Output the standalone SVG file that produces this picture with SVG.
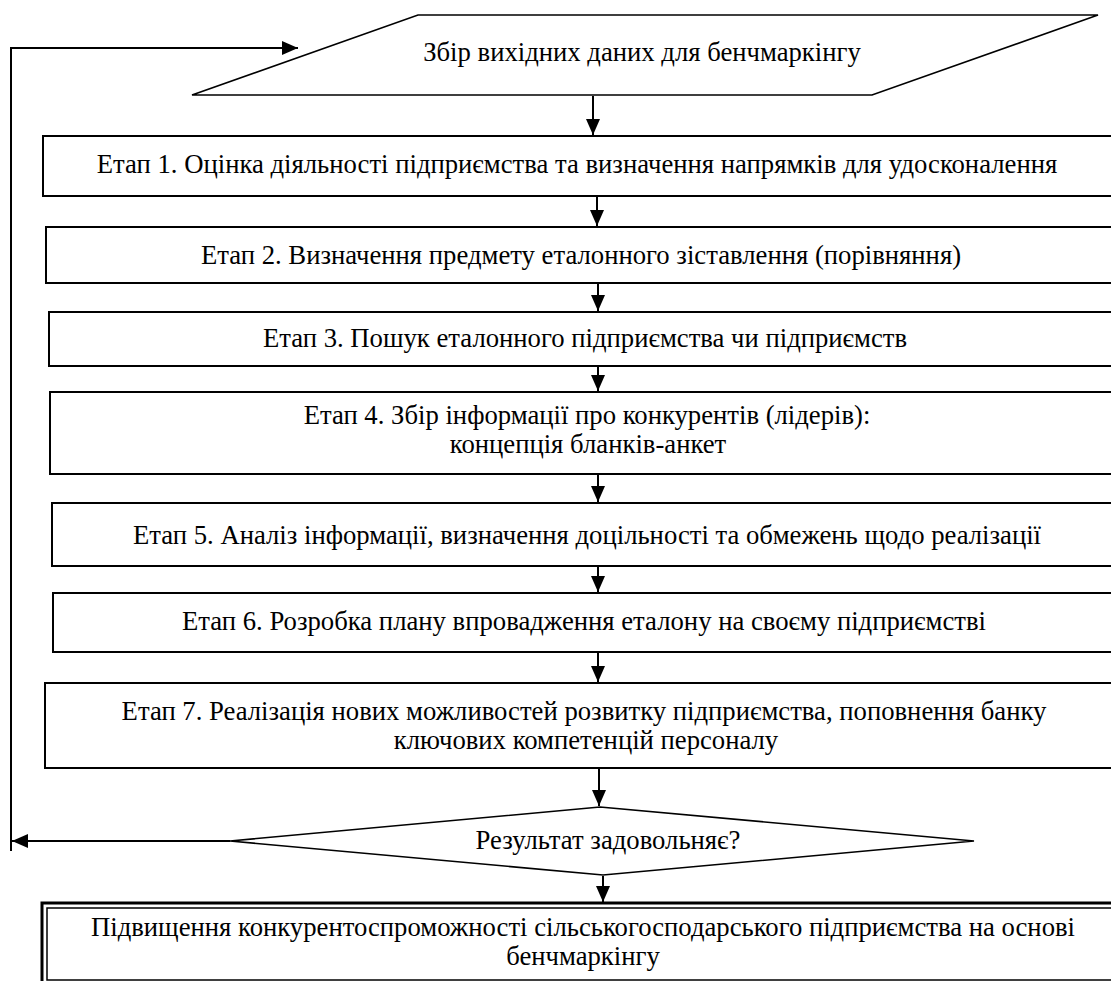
<svg xmlns="http://www.w3.org/2000/svg" width="1111" height="981" viewBox="0 0 1111 981">
<style>
.box{fill:#fff;stroke:#000;stroke-width:2}
.shape{fill:#fff;stroke:#000;stroke-width:1.6}
.t{font-family:"Liberation Serif","Times New Roman",serif;font-size:26.7px;fill:#000;text-anchor:middle}
.c{fill:none;stroke:#000;stroke-width:2}
</style>
<defs>
<marker id="ah" viewBox="0 0 16 14" refX="16" refY="7" markerWidth="16" markerHeight="14" markerUnits="userSpaceOnUse" orient="auto">
<path d="M0,0 L16,7 L0,14 Z" fill="#000"/>
</marker>
</defs>
<rect width="1111" height="981" fill="#fff"/>
<g id="n0">
<polygon class="shape" points="418,15 1098,15 872,95 192,95"/>
<text class="t" x="642" y="61">Збір вихідних даних для бенчмаркінгу</text>
</g>
<g id="n1">
<rect class="box" x="43" y="136" width="1100" height="60"/>
<text class="t" x="577" y="173">Етап 1. Оцінка діяльності підприємства та визначення напрямків для удосконалення</text>
</g>
<g id="n2">
<rect class="box" x="46" y="227" width="1100" height="56"/>
<text class="t" x="581" y="264">Етап 2. Визначення предмету еталонного зіставлення (порівняння)</text>
</g>
<g id="n3">
<rect class="box" x="49" y="312" width="1100" height="54"/>
<text class="t" x="585" y="347">Етап 3. Пошук еталонного підприємства чи підприємств</text>
</g>
<g id="n4">
<rect class="box" x="50" y="392" width="1100" height="82"/>
<text class="t" x="587" y="424">Етап 4. Збір інформації про конкурентів (лідерів):</text>
<text class="t" x="588" y="453">концепція бланків-анкет</text>
</g>
<g id="n5">
<rect class="box" x="52" y="503" width="1100" height="63"/>
<text class="t" x="587" y="544">Етап 5. Аналіз інформації, визначення доцільності та обмежень щодо реалізації</text>
</g>
<g id="n6">
<rect class="box" x="53" y="593" width="1100" height="59"/>
<text class="t" x="584" y="630">Етап 6. Розробка плану впровадження еталону на своєму підприємстві</text>
</g>
<g id="n7">
<rect class="box" x="45" y="683" width="1100" height="85"/>
<text class="t" x="584" y="720">Етап 7. Реалізація нових можливостей розвитку підприємства, поповнення банку</text>
<text class="t" x="586" y="749">ключових компетенцій персоналу</text>
</g>
<g id="n8">
<polygon class="shape" points="600,807 974,841 603,875 230,841"/>
<text class="t" x="608" y="849">Результат задовольняє?</text>
</g>
<g id="n9">
<rect fill="#fff" stroke="#000" stroke-width="3" x="42" y="903" width="1100" height="120"/>
<rect fill="none" stroke="#000" stroke-width="1.5" x="47" y="908" width="1100" height="72"/>
<text class="t" x="583" y="936">Підвищення конкурентоспроможності сільськогосподарського підприємства на основі</text>
<text class="t" x="583" y="965">бенчмаркінгу</text>
</g>
<g id="connectors">
<line class="c" x1="593" y1="96" x2="593" y2="135" marker-end="url(#ah)"/>
<line class="c" x1="597" y1="197" x2="597" y2="226" marker-end="url(#ah)"/>
<line class="c" x1="598" y1="284" x2="598" y2="311" marker-end="url(#ah)"/>
<line class="c" x1="598" y1="367" x2="598" y2="391" marker-end="url(#ah)"/>
<line class="c" x1="598" y1="475" x2="598" y2="502" marker-end="url(#ah)"/>
<line class="c" x1="598" y1="567" x2="598" y2="592" marker-end="url(#ah)"/>
<line class="c" x1="598" y1="653" x2="598" y2="682" marker-end="url(#ah)"/>
<line class="c" x1="599" y1="769" x2="599" y2="806" marker-end="url(#ah)"/>
<line class="c" x1="603" y1="876" x2="603" y2="902" marker-end="url(#ah)"/>
<line class="c" x1="230" y1="841" x2="12" y2="841" marker-end="url(#ah)"/>
<line class="c" x1="11" y1="851" x2="11" y2="47"/>
<line class="c" x1="10" y1="48" x2="298" y2="48" marker-end="url(#ah)"/>
</g>
</svg>
